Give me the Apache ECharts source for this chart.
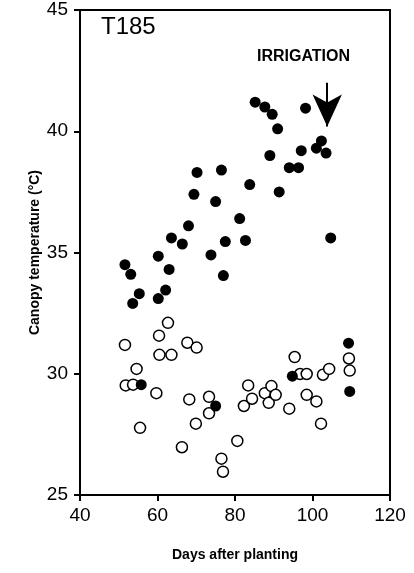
<!DOCTYPE html>
<html>
<head>
<meta charset="utf-8">
<title>T185 canopy temperature</title>
<script src="https://cdn.jsdelivr.net/npm/echarts@6/dist/echarts.min.js"></script>
<style>
  html, body { margin: 0; padding: 0; background: #fff; }
  #chart { width: 414px; height: 573px; }
</style>
</head>
<body>
<div id="chart"></div>
<script>
// filled circles
var filledDays = [51.6, 53.1, 53.6, 55.3, 60.2, 60.2, 62.1, 63.0, 63.6, 66.4, 68.0, 69.4, 70.2,
  73.8, 75.0, 76.5, 77.0, 77.5, 81.2, 82.7, 83.8, 85.2, 87.7, 89.6, 89.0, 91.0, 91.4,
  94.0, 96.4, 97.1, 98.2, 101.0, 102.3, 103.5, 104.7,
  55.8, 75.0, 94.8, 109.3, 109.6]
var filledTemps = [34.5, 34.1, 32.9, 33.3, 34.85, 33.1, 33.45, 34.3, 35.6, 35.35, 36.1, 37.4, 38.3,
  34.9, 37.1, 38.4, 34.05, 35.45, 36.4, 35.5, 37.8, 41.2, 41.0, 40.7, 39.0, 40.1, 37.5,
  38.5, 38.5, 39.2, 40.95, 39.3, 39.6, 39.1, 35.6,
  29.55, 28.67, 29.9, 31.26, 29.27]

// open circles
var openDays = [51.6, 51.8, 53.7, 54.6, 55.5, 59.7, 60.4, 60.5, 62.7, 63.6, 66.3, 67.7, 68.2,
  70.1, 69.9, 73.3, 73.3, 76.5, 76.9, 80.6, 82.3, 83.4, 84.4, 87.7, 88.7, 89.4, 90.5,
  94.0, 95.4, 96.8, 98.5, 98.5, 101.0, 102.2, 102.7, 104.3, 109.4, 109.6]
var openTemps = [31.19, 29.52, 29.55, 30.2, 27.77, 29.2, 31.57, 30.78, 32.1, 30.78, 26.97, 31.28, 28.94,
  31.08, 27.94, 29.05, 28.37, 26.5, 25.96, 27.23, 28.67, 29.52, 28.97, 29.2, 28.8, 29.49, 29.13,
  28.56, 30.69, 29.99, 29.99, 29.13, 28.86, 27.94, 29.96, 30.2, 30.63, 30.13]

var xTicks = [40, 60, 80, 100, 120]
var yTicks = [25, 30, 35, 40, 45]

var filledData = filledDays.map(function(d, i) { return [d, filledTemps[i]] })
var openData = openDays.map(function(d, i) { return [d, openTemps[i]] })

var font = 'Liberation Sans, Arial, sans-serif'
var myChart = echarts.init(document.getElementById('chart'))

var option = {
  animation: false,
  backgroundColor: '#fff',
  grid: {
    left: 80,
    right: 24,
    top: 10,
    bottom: 78,
    show: true,
    borderColor: '#000',
    borderWidth: 2
  },
  xAxis: {
    type: 'value',
    min: xTicks[0],
    max: xTicks[xTicks.length - 1],
    interval: 20,
    name: 'Days after planting',
    nameLocation: 'middle',
    nameGap: 53,
    nameTextStyle: { fontFamily: font, fontSize: 14, fontWeight: 'bold', color: '#000' },
    axisLine: { lineStyle: { color: '#000', width: 2 } },
    axisTick: { length: 6, lineStyle: { color: '#000', width: 2 } },
    axisLabel: { fontFamily: font, fontSize: 19, color: '#000', margin: 11 },
    splitLine: { show: false }
  },
  yAxis: {
    type: 'value',
    min: yTicks[0],
    max: yTicks[yTicks.length - 1],
    interval: 5,
    name: 'Canopy temperature (°C)',
    nameLocation: 'middle',
    nameGap: 38,
    nameMoveOverlap: false,
    nameTextStyle: { fontFamily: font, fontSize: 14, fontWeight: 'bold', color: '#000' },
    axisLine: { lineStyle: { color: '#000', width: 2 } },
    axisTick: { length: 6, lineStyle: { color: '#000', width: 2 } },
    axisLabel: { fontFamily: font, fontSize: 19, color: '#000', margin: 12 },
    splitLine: { show: false }
  },
  graphic: [
    {
      type: 'text',
      left: 101,
      top: 15,
      style: { text: 'T185', font: '24px ' + font, fill: '#000' }
    },
    {
      type: 'text',
      left: 257,
      top: 49,
      style: { text: 'IRRIGATION', font: 'bold 16px ' + font, fill: '#000' }
    }
  ],
  series: [
    {
      type: 'scatter',
      name: 'open',
      data: openData,
      symbol: 'circle',
      symbolSize: 11,
      itemStyle: { color: '#fff', borderColor: '#000', borderWidth: 1.5, opacity: 1 }
    },
    {
      type: 'scatter',
      name: 'filled',
      data: filledData,
      symbol: 'circle',
      symbolSize: 11,
      itemStyle: { color: '#000', opacity: 1 },
      markLine: {
        silent: true,
        symbol: ['none', 'arrow'],
        symbolSize: [22, 32],
        label: { show: false },
        lineStyle: { color: '#000', width: 2, type: 'solid', opacity: 1 },
        data: [[{ coord: [103.8, 42.0] }, { coord: [103.8, 40.2] }]]
      }
    }
  ]
}

myChart.setOption(option)
</script>
</body>
</html>
